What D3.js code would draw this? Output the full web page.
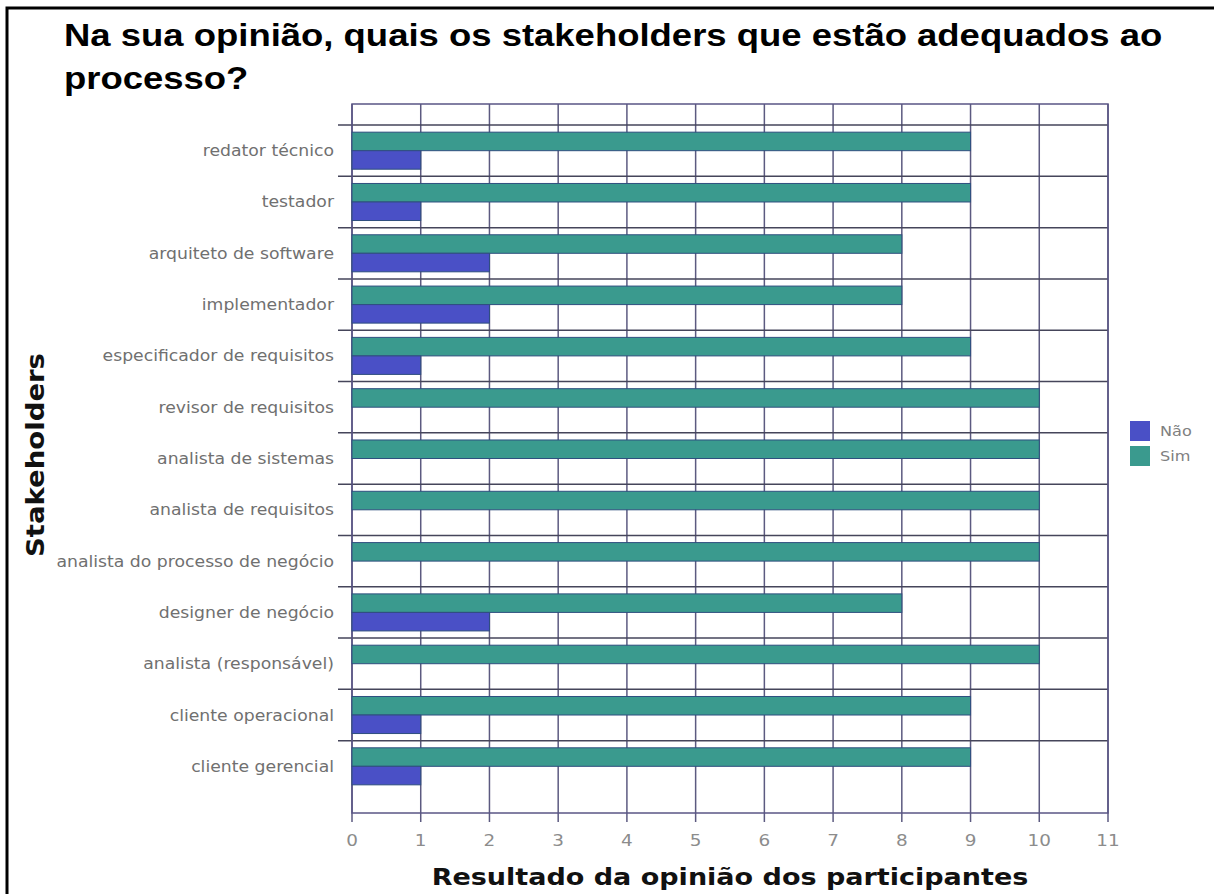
<!DOCTYPE html>
<html>
<head>
<meta charset="utf-8">
<script src="https://cdn.jsdelivr.net/npm/d3@7"></script>
<style>
  body { margin: 0; background: #fff; }
</style>
</head>
<body>
<div class="canva"></div>
<script>
// dados
const stakeholders = [
    "redator técnico",
    "testador",
    "arquiteto de software",
    "implementador",
    "especificador de requisitos",
    "revisor de requisitos",
    "analista de sistemas",
    "analista de requisitos",
    "analista do processo de negócio",
    "designer de negócio",
    "analista (responsável)",
    "cliente operacional",
    "cliente gerencial"
];
const simValues = [9, 9, 8, 8, 9, 10, 10, 10, 10, 8, 10, 9, 9];
const naoValues = [1, 1, 2, 2, 1, 0, 0, 0, 0, 2, 0, 1, 1];
const seriesNames = ["Sim", "Não"];
const xTicks = [0, 1, 2, 3, 4, 5, 6, 7, 8, 9, 10, 11];

const colors = { "Sim": "#3a9a8e", "Não": "#4a50c6" };

const width = 1214, height = 894;
const plotLeft = 352, plotRight = 1108, plotTop = 104, plotBottom = 813;
// a imagem original esta esticada na horizontal
const stretch = 1.15;

const svg = d3.select(".canva").append("svg")
    .attr("width", width)
    .attr("height", height);

// moldura da imagem
svg.append("rect")
    .attr("x", 7).attr("y", 8)
    .attr("width", width + 10).attr("height", height + 10)
    .attr("fill", "none")
    .attr("stroke", "#000")
    .attr("stroke-width", 3);

const x = d3.scaleLinear().domain([0, 11]).range([plotLeft, plotRight]);
const y = d3.scaleBand().domain(stakeholders).range([plotTop, plotBottom])
    .paddingInner(0).paddingOuter(0.41);
const ySub = d3.scaleBand().domain(seriesNames).range([0, y.bandwidth()])
    .paddingInner(0).paddingOuter(0.385);

// linhas verticais
svg.append("g")
    .selectAll("line")
    .data(xTicks)
    .join("line")
    .attr("x1", d => x(d)).attr("x2", d => x(d))
    .attr("y1", plotTop).attr("y2", plotBottom + 9)
    .attr("stroke", "#5c5a80")
    .attr("stroke-width", 1.5);

// separadores de categorias
svg.append("g")
    .selectAll("line")
    .data(stakeholders)
    .join("line")
    .attr("x1", plotLeft - 14).attr("x2", plotRight)
    .attr("y1", d => y(d)).attr("y2", d => y(d))
    .attr("stroke", "#45455a")
    .attr("stroke-width", 1.5);

// borda do plot
svg.append("rect")
    .attr("x", plotLeft).attr("y", plotTop)
    .attr("width", plotRight - plotLeft).attr("height", plotBottom - plotTop)
    .attr("fill", "none")
    .attr("stroke", "#5a5685")
    .attr("stroke-width", 1.5);

// barras
const rows = stakeholders.map((s, i) => ({ s: s, Sim: simValues[i], "Não": naoValues[i] }));

const groups = svg.append("g")
    .selectAll("g")
    .data(rows)
    .join("g")
    .attr("transform", d => `translate(0,${y(d.s)})`);

groups.selectAll("rect")
    .data(d => seriesNames.map(k => ({ key: k, value: d[k] })).filter(d => d.value > 0))
    .join("rect")
    .attr("x", x(0))
    .attr("y", d => ySub(d.key))
    .attr("width", d => x(d.value) - x(0))
    .attr("height", ySub.bandwidth())
    .attr("fill", d => colors[d.key])
    .attr("stroke", "#2f4f7f")
    .attr("stroke-width", 1);

// rotulos das categorias
svg.append("g")
    .selectAll("text")
    .data(stakeholders)
    .join("text")
    .attr("transform", d => `translate(334,${y(d) + y.bandwidth() / 2 + 5.5}) scale(${stretch},1)`)
    .attr("text-anchor", "end")
    .attr("font-family", "DejaVu Sans, Verdana, sans-serif")
    .attr("font-size", 15)
    .attr("fill", "#707070")
    .text(d => d);

// rotulos do eixo x
svg.append("g")
    .selectAll("text")
    .data(xTicks)
    .join("text")
    .attr("transform", d => `translate(${x(d)},846) scale(${stretch},1)`)
    .attr("text-anchor", "middle")
    .attr("font-family", "DejaVu Sans, Verdana, sans-serif")
    .attr("font-size", 16)
    .attr("fill", "#8c8c8c")
    .text(d => d);

// titulo
const title = svg.append("text")
    .attr("transform", `translate(64,0) scale(${stretch - 0.01},1)`)
    .attr("font-family", "Liberation Sans, Arial, sans-serif")
    .attr("font-weight", "bold")
    .attr("font-size", 32)
    .attr("fill", "#000");
title.append("tspan").attr("x", 0).attr("y", 46)
    .text("Na sua opinião, quais os stakeholders que estão adequados ao");
title.append("tspan").attr("x", 0).attr("y", 89)
    .text("processo?");

// titulos dos eixos
svg.append("text")
    .attr("transform", `translate(730,885) scale(${stretch},1)`)
    .attr("text-anchor", "middle")
    .attr("font-family", "DejaVu Sans, Verdana, sans-serif")
    .attr("font-weight", "bold")
    .attr("font-size", 23.5)
    .attr("fill", "#111")
    .text("Resultado da opinião dos participantes");

svg.append("text")
    .attr("transform", "translate(44,455) rotate(-90)")
    .attr("text-anchor", "middle")
    .attr("font-family", "DejaVu Sans, Verdana, sans-serif")
    .attr("font-weight", "bold")
    .attr("font-size", 24)
    .attr("textLength", 204)
    .attr("lengthAdjust", "spacingAndGlyphs")
    .attr("fill", "#111")
    .text("Stakeholders");

// legenda
const legend = svg.append("g")
    .selectAll("g")
    .data(["Não", "Sim"])
    .join("g")
    .attr("transform", (d, i) => `translate(1130,${421 + i * 25})`);

legend.append("rect")
    .attr("width", 20).attr("height", 20)
    .attr("fill", d => colors[d]);

legend.append("text")
    .attr("transform", `translate(30,15) scale(${stretch},1)`)
    .attr("font-family", "DejaVu Sans, Verdana, sans-serif")
    .attr("font-size", 14)
    .attr("fill", "#808080")
    .text(d => d);
</script>
</body>
</html>
